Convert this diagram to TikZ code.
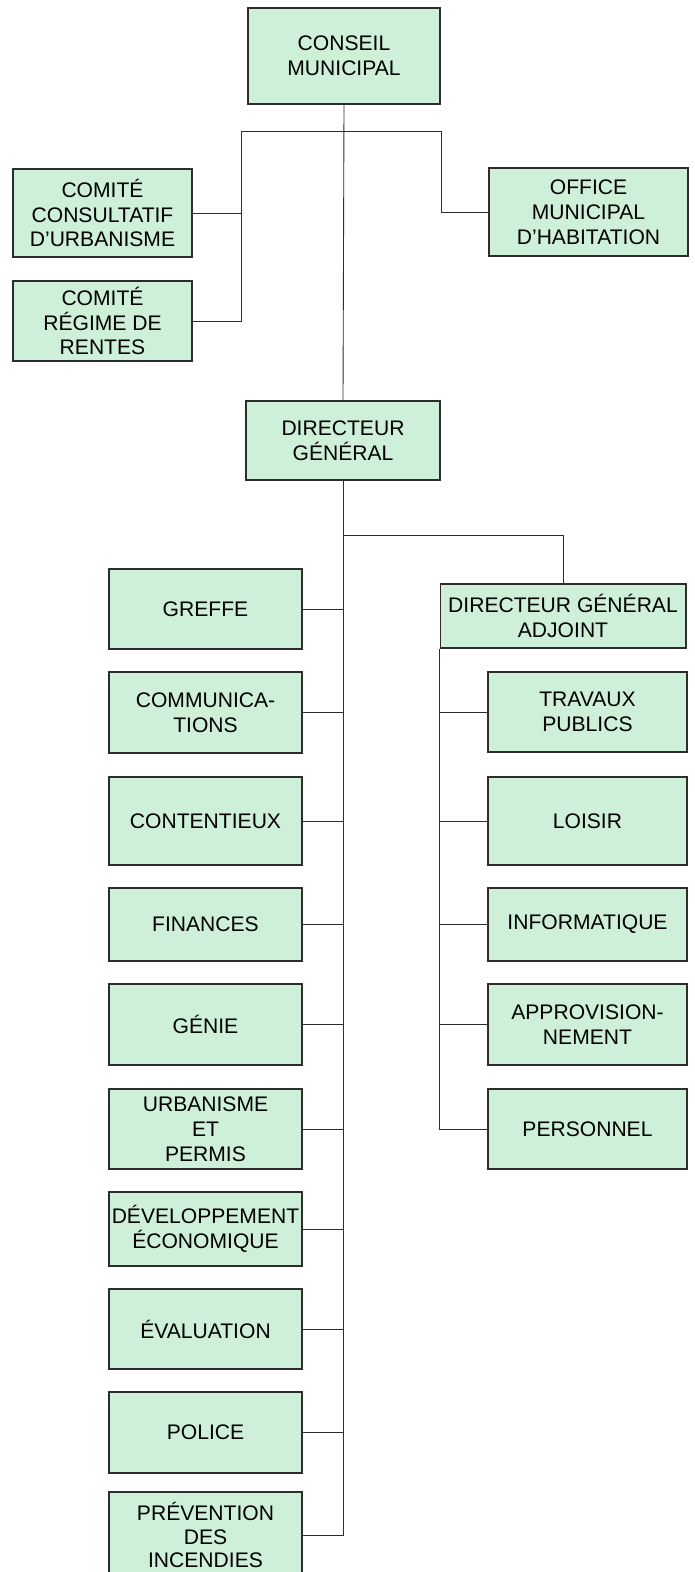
\documentclass[tikz,border=0pt]{standalone}
\usepackage{fontspec}
\setmainfont{Liberation Sans}
\usetikzlibrary{positioning, calc}
\definecolor{boxgreen}{RGB}{206,239,216}
\definecolor{linegray}{RGB}{45,45,45}
\tikzset{
	Unit/.style={draw=linegray, fill=boxgreen, rectangle, line width=0.6pt, inner sep=1pt,
		align=center, font=\fontsize{12}{14.2}\selectfont},
	Link/.style={draw=linegray, line width=0.5pt}
}

\begin{document}
\begin{tikzpicture}[x=0.02cm, y=-0.02cm]
			
			\clip (0,0) rectangle (695,1572);
			
			%Blocks
			\node (ConseilMunicipal) at (344,56) [Unit, minimum width=3.84cm, minimum height=1.92cm]{CONSEIL\\MUNICIPAL};
			\node (ComiteConsultatif) at (102.5,213) [Unit, minimum width=3.58cm, minimum height=1.76cm]{COMITÉ\\CONSULTATIF\\D'URBANISME};
			\node (ComiteRentes) at (102.5,321) [Unit, minimum width=3.58cm, minimum height=1.6cm]{COMITÉ\\RÉGIME DE\\RENTES};
			\node (OfficeHabitation) at (588.5,212) [Unit, minimum width=3.98cm, minimum height=1.76cm]{OFFICE\\MUNICIPAL\\D'HABITATION};
			\node (DirecteurGeneral) at (343,440.5) [Unit, minimum width=3.88cm, minimum height=1.58cm]{DIRECTEUR\\GÉNÉRAL};
			\node (DirecteurAdjoint) at (563,616) [Unit, minimum width=4.92cm, minimum height=1.28cm]{DIRECTEUR GÉNÉRAL\\ADJOINT};
			
			\node (Greffe) at (205.5,609) [Unit, minimum width=3.86cm, minimum height=1.6cm]{GREFFE};
			\node (Communications) at (205.5,712.5) [Unit, minimum width=3.86cm, minimum height=1.62cm]{COMMUNICA-\\TIONS};
			\node (Contentieux) at (205.5,821) [Unit, minimum width=3.86cm, minimum height=1.76cm]{CONTENTIEUX};
			\node (Finances) at (205.5,924.5) [Unit, minimum width=3.86cm, minimum height=1.46cm]{FINANCES};
			\node (Genie) at (205.5,1024.5) [Unit, minimum width=3.86cm, minimum height=1.62cm]{GÉNIE};
			\node (Urbanisme) at (205.5,1129) [Unit, minimum width=3.86cm, minimum height=1.6cm]{URBANISME\\ET\\PERMIS};
			\node (Developpement) at (205.5,1229) [Unit, minimum width=3.86cm, minimum height=1.48cm]{DÉVELOPPEMENT\\ÉCONOMIQUE};
			\node (Evaluation) at (205.5,1329) [Unit, minimum width=3.86cm, minimum height=1.6cm]{ÉVALUATION};
			\node (Police) at (205.5,1432.5) [Unit, minimum width=3.86cm, minimum height=1.62cm]{POLICE};
			\node (Prevention) at (205.5,1535) [Unit, minimum width=3.86cm, minimum height=1.72cm,
				font=\fontsize{12}{13.6}\selectfont]{PRÉVENTION\\DES\\INCENDIES};
			
			\node (TravauxPublics) at (587.5,712) [Unit, minimum width=3.98cm, minimum height=1.6cm]{TRAVAUX\\PUBLICS};
			\node (Loisir) at (587.5,821) [Unit, minimum width=3.98cm, minimum height=1.76cm]{LOISIR};
			\node (Informatique) at (587.5,924.5) [Unit, minimum width=3.98cm, minimum height=1.46cm]{INFORMATIQUE};
			\node (Approvisionnement) at (587.5,1024.5) [Unit, minimum width=3.98cm, minimum height=1.62cm]{APPROVISION-\\NEMENT};
			\node (Personnel) at (587.5,1129) [Unit, minimum width=3.98cm, minimum height=1.6cm]{PERSONNEL};
			
			%Branch points
			\coordinate (LeftBranch) at (241,131);
			\coordinate (RightBranch) at (441,131);
			\coordinate (AdjointBranch) at (343,535);
			
			%Links
			\draw[Link] (ConseilMunicipal.south) -- (DirecteurGeneral.north);
			\draw[Link] (ComiteRentes.east) -| (LeftBranch) -- (RightBranch) |- (OfficeHabitation.west);
			\draw[Link] (ComiteConsultatif.east) -- (ComiteConsultatif.east -| LeftBranch);
			
			\draw[Link] (DirecteurGeneral.south) |- (Prevention.east);
			\draw[Link] (AdjointBranch) -| (DirecteurAdjoint.north);
			\foreach \unit in {Greffe, Communications, Contentieux, Finances, Genie, Urbanisme,
				Developpement, Evaluation, Police}
				\draw[Link] (\unit.east) -- (\unit.east -| DirecteurGeneral.south);
			
			\draw[Link] (DirecteurAdjoint.south west) |- (Personnel.west);
			\foreach \unit in {TravauxPublics, Loisir, Informatique, Approvisionnement}
				\draw[Link] (\unit.west) -- (\unit.west -| DirecteurAdjoint.south west);
			
			\end{tikzpicture}
\end{document}
